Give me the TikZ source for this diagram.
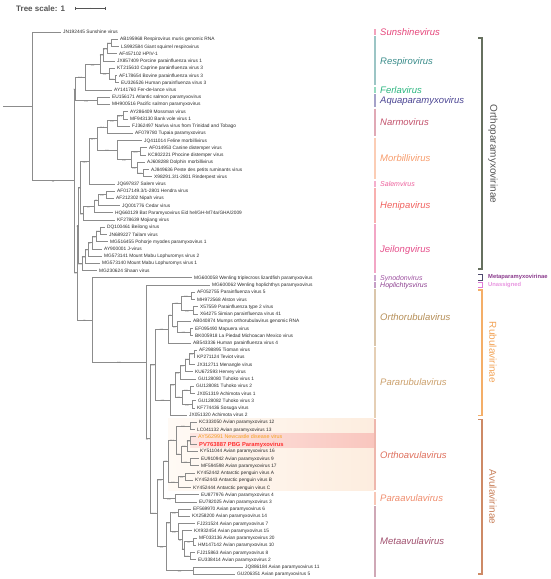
\documentclass[tikz,border=0pt]{standalone}
\usepackage{fontspec}
\setmainfont{Liberation Sans}
\usetikzlibrary{calc}
\definecolor{treegray}{HTML}{8C8C8C}
\definecolor{leafc}{HTML}{2A2A2A}
\definecolor{bsc}{HTML}{808080}
\definecolor{scg}{HTML}{555555}
\definecolor{hlA}{HTML}{FFFAF5}
\definecolor{hlB}{HTML}{FDEDDF}
\definecolor{pkA}{HTML}{FDE6E2}
\definecolor{pkB}{HTML}{F9C6BE}
\definecolor{ndvc}{HTML}{F5A020}
\definecolor{pbgc}{HTML}{FF3030}
\definecolor{gSun}{HTML}{E5457A}
\definecolor{gRes}{HTML}{3A8C8A}
\definecolor{gFer}{HTML}{2BB57F}
\definecolor{gAqu}{HTML}{4B4593}
\definecolor{gNar}{HTML}{C2526C}
\definecolor{gMor}{HTML}{F79C6C}
\definecolor{gSal}{HTML}{EC5E9A}
\definecolor{gHen}{HTML}{F0625F}
\definecolor{gJei}{HTML}{E54E8A}
\definecolor{gSyn}{HTML}{9C4F9F}
\definecolor{gHop}{HTML}{8B3D8E}
\definecolor{gOru}{HTML}{B58E57}
\definecolor{gPru}{HTML}{CBA06C}
\definecolor{gOav}{HTML}{DE6F5C}
\definecolor{gPav}{HTML}{EF8D6E}
\definecolor{gMav}{HTML}{A0506E}
\definecolor{orthoc}{HTML}{66705F}
\definecolor{orthot}{HTML}{555555}
\definecolor{metac}{HTML}{4E4A6E}
\definecolor{metat}{HTML}{8A3A8C}
\definecolor{unac}{HTML}{E07AD8}
\definecolor{unat}{HTML}{E896E0}
\definecolor{rubc}{HTML}{F4AE68}
\definecolor{rubt}{HTML}{F2A458}
\definecolor{avuc}{HTML}{CD8A66}
\definecolor{avut}{HTML}{C8805A}
\tikzset{
  br/.style={draw=treegray, line width=0.45pt},
  leaf/.style={anchor=base west, inner sep=0pt, font=\fontsize{4.8}{5.5}\selectfont, text=leafc},
  bsl/.style={anchor=north, inner sep=0.2pt, font=\fontsize{2.2}{2.4}\selectfont, text=bsc},
  gbar/.style={line width=2pt},
  glab/.style={anchor=base west, inner sep=0pt, yshift=-3.3pt, font=\fontsize{9.5}{10}\selectfont\itshape},
  sglab/.style={anchor=base west, inner sep=0pt, yshift=-2.5pt, font=\fontsize{7}{8}\selectfont\itshape},
  brk/.style={line width=1.2pt, line join=miter},
  sflab/.style={rotate=-90, inner sep=0pt, font=\fontsize{10}{11}\selectfont},
  smsf/.style={anchor=west, inner sep=0pt, font=\fontsize{5.8}{6}\selectfont\bfseries},
  scb/.style={draw=scg, line width=0.5pt},
}
\newcommand\tleaf[4]{%
  \coordinate (#1) at ({#3-1.6},{32+7.227*#2});
  \node[leaf] (#1t) at ({#3},{32+7.227*#2+1.7}) {#4};}
\newcommand\tnode[4]{%
  \path let \p1=(#3), \p2=(#4) in coordinate (#1) at (#2pt,{0.5*\y1+0.5*\y2});
  \draw[br] (#1) |- (#3);
  \draw[br] (#1) |- (#4);}
\newcommand\bsv[3]{\node[bsl] (#1b) at ($(#1)!0.5!(#2|-#1)$) {#3};}
\newcommand\genus[6]{%
  \draw[gbar,draw=#4!50!white] (375,{32+7.227*#2-2.9}) -- (375,{32+7.227*#3+2.9});
  \node[#5,text=#4] (#1) at (380,{32+7.227*(#2+#3)/2}) {#6};}
\begin{document}
\begin{tikzpicture}[x=1pt,y=-1pt]
\useasboundingbox (0,0) rectangle (550,579);
% clade highlights
\shade[left color=hlA,right color=hlB] (168,418.7) rectangle (374,490.9);
\shade[left color=pkA,right color=pkB] (190,433.2) rectangle (374,447.6);
% tree scale
\node[anchor=west,inner sep=0pt,font=\fontsize{8}{9}\selectfont\bfseries,text=scg] (tscale) at (16,9) {Tree scale: 1};
\coordinate (sbA) at (75,8.3);
\coordinate (sbB) at (105.5,8.3);
\coordinate (sbM) at (90.2,8.3);
\draw[scb] (sbA) -- (sbB);
\draw[scb] ($(sbA)+(0,-1.8)$) -- ($(sbA)+(0,1.8)$);
\draw[scb] ($(sbB)+(0,-1.8)$) -- ($(sbB)+(0,1.8)$);
\draw[scb] ($(sbM)+(0,-0.6)$) -- ($(sbM)+(0,0.6)$);
% leaves
\tleaf{sun}{0}{63}{JN192445 Sunshine virus}
\tleaf{l1}{1}{120}{AB195968 Respirovirus muris genomic RNA}
\tleaf{l2}{2}{121}{LS992584 Giant squirrel respirovirus}
\tleaf{l3}{3}{119}{AF457102 HPIV-1}
\tleaf{l4}{4}{117}{JX857409 Porcine parainfluenza virus 1}
\tleaf{l5}{5}{117}{KT215610 Caprine parainfluenza virus 3}
\tleaf{l6}{6}{119}{AF178654 Bovine parainfluenza virus 3}
\tleaf{l7}{7}{121}{EU326526 Human parainfluenza virus 3}
\tleaf{l8}{8}{114}{AY141760 Fer-de-lance virus}
\tleaf{l9}{9}{112}{EU156171 Atlantic salmon paramyxovirus}
\tleaf{l10}{10}{112}{MH900516 Pacific salmon paramyxovirus}
\tleaf{l11}{11}{130}{AY286409 Mossman virus}
\tleaf{l12}{12}{130}{MF943130 Bank vole virus 1}
\tleaf{l13}{13}{132}{FJ362497 Nariva virus from Trinidad and Tobago}
\tleaf{l14}{14}{135}{AF079780 Tupaia paramyxovirus}
\tleaf{l15}{15}{144}{JQ411014 Feline morbillivirus}
\tleaf{l16}{16}{149}{AF014953 Canine distemper virus}
\tleaf{l17}{17}{148}{KC802221 Phocine distemper virus}
\tleaf{l18}{18}{147}{AJ608288 Dolphin morbillivirus}
\tleaf{l19}{19}{151}{AJ849636 Peste des petits ruminants virus}
\tleaf{l20}{20}{154}{X98291.3/1-2801 Rinderpest virus}
\tleaf{l21}{21}{117}{JQ697837 Salem virus}
\tleaf{l22}{22}{117}{AF017149.3/1-2801 Hendra virus}
\tleaf{l23}{23}{116}{AF212302 Nipah virus}
\tleaf{l24}{24}{122}{JQ001776 Cedar virus}
\tleaf{l25}{25}{115}{HQ660129 Bat Paramyxovirus Eid hel/GH-M74a/GHA/2009}
\tleaf{l26}{26}{117}{KF278639 Mojiang virus}
\tleaf{l27}{27}{107}{DQ100461 Beilong virus}
\tleaf{l28}{28}{109}{JN689227 Tailam virus}
\tleaf{l29}{29}{110}{MG516455 Pohorje myodes paramyxovirus 1}
\tleaf{l30}{30}{104}{AY900001 J-virus}
\tleaf{l31}{31}{104}{MG573141 Mount Mabu Lophuromys virus 2}
\tleaf{l32}{32}{102}{MG573140 Mount Mabu Lophuromys virus 1}
\tleaf{l33}{33}{99}{MG230624 Shaan virus}
\tleaf{l34}{34}{194}{MG600058 Wenling triplecross lizardfish paramyxovirus}
\tleaf{l35}{35}{212}{MG600062 Wenling hoplichthys paramyxovirus}
\tleaf{l36}{36}{197}{AF052755 Parainfluenza virus 5}
\tleaf{l37}{37}{197}{MH972568 Alston virus}
\tleaf{l38}{38}{200}{X57559 Parainfluenza type 2 virus}
\tleaf{l39}{39}{200}{X64275 Simian parainfluenza virus 41}
\tleaf{l40}{40}{193}{AB040874 Mumps orthorubulavirus genomic RNA}
\tleaf{l41}{41}{195}{EF095490 Mapuera virus}
\tleaf{l42}{42}{195}{BK005918 La Piedad Michoacan Mexico virus}
\tleaf{l43}{43}{193}{AB543336 Human parainfluenza virus 4}
\tleaf{l44}{44}{199}{AF298895 Tioman virus}
\tleaf{l45}{45}{197}{KP271124 Teviot virus}
\tleaf{l46}{46}{197}{JX312711 Menangle virus}
\tleaf{l47}{47}{195}{KU672593 Hervey virus}
\tleaf{l48}{48}{198}{GU128080 Tuhoko virus 1}
\tleaf{l49}{49}{196}{GU128081 Tuhoko virus 2}
\tleaf{l50}{50}{197}{JX051319 Achimota virus 1}
\tleaf{l51}{51}{198}{GU128082 Tuhoko virus 3}
\tleaf{l52}{52}{197}{KF774436 Sosuga virus}
\tleaf{l53}{53}{189}{JX051320 Achimota virus 2}
\tleaf{l54}{54}{199}{KC333050 Avian paramyxovirus 12}
\tleaf{l55}{55}{197}{LC041132 Avian paramyxovirus 13}
\coordinate (l56) at (196.4,{32+7.227*56});
\node[leaf,font=\fontsize{5.4}{6}\selectfont,text=ndvc] (l56t) at (198,{32+7.227*56+1.9}) {AY562991 Newcastle disease virus};
\coordinate (l57) at (197.4,{32+7.227*57});
\node[leaf,font=\fontsize{5.8}{6.5}\selectfont\bfseries,text=pbgc] (l57t) at (199,{32+7.227*57+2.1}) {PV763887 PBG Paramyxovirus};
\tleaf{l58}{58}{200}{KY511044 Avian paramyxovirus 16}
\tleaf{l59}{59}{201}{EU910942 Avian paramyxovirus 9}
\tleaf{l60}{60}{201}{MF594598 Avian paramyxovirus 17}
\tleaf{l61}{61}{197}{KY452442 Antarctic penguin virus A}
\tleaf{l62}{62}{195}{KY452443 Antarctic penguin virus B}
\tleaf{l63}{63}{193}{KY452444 Antarctic penguin virus C}
\tleaf{l64}{64}{201}{EU877976 Avian paramyxovirus 4}
\tleaf{l65}{65}{199}{EU782025 Avian paramyxovirus 3}
\tleaf{l66}{66}{193}{EF569970 Avian paramyxovirus 6}
\tleaf{l67}{67}{192}{KX258200 Avian paramyxovirus 14}
\tleaf{l68}{68}{197}{FJ231524 Avian paramyxovirus 7}
\tleaf{l69}{69}{194}{KX932454 Avian paramyxovirus 15}
\tleaf{l70}{70}{199}{MF033136 Avian paramyxovirus 20}
\tleaf{l71}{71}{198}{HM147142 Avian paramyxovirus 10}
\tleaf{l72}{72}{197}{FJ215863 Avian paramyxovirus 8}
\tleaf{l73}{73}{198}{EU338414 Avian paramyxovirus 2}
\tleaf{l74}{74}{245}{JQ886184 Avian paramyxovirus 11}
\tleaf{l75}{75}{237}{GU206351 Avian paramyxovirus 5}
% internal nodes: Respirovirus, Ferlavirus, Aquaparamyxovirus
\tnode{r1}{111}{l1}{l2}
\tnode{r2}{107}{r1}{l3}
\tnode{r3}{103}{r2}{l4}
\tnode{r4}{115}{l6}{l7}
\tnode{r5}{109}{l5}{r4}
\tnode{r6}{100}{r3}{r5}
\tnode{r7}{85}{r6}{l8}
\tnode{a1}{97}{l9}{l10}
\tnode{rfa}{75.5}{r7}{a1}
% Narmovirus, Morbillivirus, Salemvirus
\tnode{n1}{123}{l11}{l12}
\tnode{n2}{117}{n1}{l13}
\tnode{n3}{107}{n2}{l14}
\tnode{m1}{140}{l16}{l17}
\tnode{m2}{143}{l19}{l20}
\tnode{m3}{137}{l18}{m2}
\tnode{m4}{131}{m1}{m3}
\tnode{m5}{117}{l15}{m4}
\tnode{nm}{97}{n3}{m5}
\tnode{ns}{89}{nm}{l21}
% Henipavirus
\tnode{h1}{106}{l22}{l23}
\tnode{h2}{98}{h1}{l24}
\tnode{h3}{94}{h2}{l25}
\tnode{h4}{83}{h3}{l26}
\tnode{A}{80.5}{ns}{h4}
% Jeilongvirus
\tnode{j1}{100}{l27}{l28}
\tnode{j2}{96}{j1}{l29}
\tnode{j3}{92}{j2}{l30}
\tnode{j4}{88}{j3}{l31}
\tnode{j5}{85}{j4}{l32}
\tnode{j6}{82}{j5}{l33}
\tnode{B}{78.5}{A}{j6}
% Rubulavirinae
\tnode{o1}{191}{l36}{l37}
\tnode{o2}{193}{l38}{l39}
\tnode{o3}{181}{o1}{o2}
\tnode{o4}{190}{l41}{l42}
\tnode{o5}{177}{l40}{o4}
\tnode{o6}{172}{o3}{o5}
\tnode{o7}{168}{o6}{l43}
\tnode{p1}{194}{l44}{l45}
\tnode{p2}{189}{p1}{l46}
\tnode{p3}{185}{p2}{l47}
\tnode{p4}{180}{p3}{l48}
\tnode{p5}{190}{l49}{l50}
\tnode{p6}{192}{l51}{l52}
\tnode{p7}{182}{p5}{p6}
\tnode{p8}{175}{p4}{p7}
\tnode{p9}{170}{p8}{l53}
\tnode{rub}{155}{o7}{p9}
% Avulavirinae
\tnode{v1}{190}{l54}{l55}
\tnode{v2}{190}{l56}{l57}
\tnode{v3}{187}{v2}{l58}
\tnode{v4}{190}{l59}{l60}
\tnode{v5}{181}{v3}{v4}
\tnode{v6}{176}{v1}{v5}
\tnode{v7}{185}{l61}{l62}
\tnode{v8}{178}{v7}{l63}
\tnode{v9}{168}{v6}{v8}
\tnode{v10}{175}{l64}{l65}
\tnode{v11}{163}{v9}{v10}
\tnode{w1}{178}{l66}{l67}
\tnode{w2}{193}{l70}{l71}
\tnode{w3}{190}{l72}{l73}
\tnode{w4}{184}{w2}{w3}
\tnode{w5}{182}{l69}{w4}
\tnode{w6}{178}{l68}{w5}
\tnode{w7}{170}{w1}{w6}
\tnode{w8}{193}{l74}{l75}
\tnode{w9}{166}{w7}{w8}
\tnode{avu}{157}{v11}{w9}
\tnode{R2}{150}{rub}{avu}
\tnode{Q}{146}{l35}{R2}
\tnode{S}{92}{l34}{Q}
\tnode{C}{77}{B}{S}
\tnode{P}{74}{rfa}{C}
\tnode{root}{32}{sun}{P}
\path let \p1=(root) in coordinate (base) at (3pt,\y1);
\draw[br] (base) -- (root);
% support values
\bsv{r1}{r2}{100} \bsv{r2}{r3}{98.5} \bsv{r3}{r6}{100} \bsv{r4}{r5}{100}
\bsv{r5}{r6}{100} \bsv{r6}{r7}{100} \bsv{r7}{rfa}{98.7} \bsv{a1}{rfa}{100}
\bsv{rfa}{P}{96}
\bsv{n1}{n2}{95.1} \bsv{n2}{n3}{100} \bsv{n3}{nm}{99.9} \bsv{m1}{m4}{96.6}
\bsv{m2}{m3}{100} \bsv{m3}{m4}{100} \bsv{m4}{m5}{100} \bsv{m5}{nm}{100}
\bsv{nm}{ns}{99.7} \bsv{ns}{A}{98.9}
\bsv{h1}{h2}{100} \bsv{h2}{h3}{97} \bsv{h3}{h4}{97} \bsv{h4}{A}{100} \bsv{A}{B}{85}
\bsv{j1}{j2}{100} \bsv{j2}{j3}{100} \bsv{j3}{j4}{97} \bsv{j4}{j5}{97}
\bsv{j5}{j6}{100} \bsv{j6}{B}{100} \bsv{B}{C}{85}
\bsv{C}{P}{95} \bsv{S}{C}{96} \bsv{Q}{S}{100} \bsv{P}{root}{98}
\bsv{o1}{o3}{100} \bsv{o2}{o3}{100} \bsv{o3}{o6}{100} \bsv{o4}{o5}{100}
\bsv{o5}{o6}{87} \bsv{o6}{o7}{97} \bsv{o7}{rub}{100}
\bsv{p1}{p2}{100} \bsv{p2}{p3}{100} \bsv{p3}{p4}{97} \bsv{p4}{p8}{100}
\bsv{p5}{p7}{100} \bsv{p6}{p7}{100} \bsv{p7}{p8}{100} \bsv{p8}{p9}{100} \bsv{p9}{rub}{100}
\bsv{rub}{R2}{99.8} \bsv{R2}{Q}{99.7}
\bsv{v1}{v6}{100} \bsv{v2}{v3}{100} \bsv{v3}{v5}{100} \bsv{v4}{v5}{100}
\bsv{v5}{v6}{99} \bsv{v6}{v9}{97.5} \bsv{v7}{v8}{100} \bsv{v8}{v9}{100}
\bsv{v9}{v11}{100} \bsv{v10}{v11}{100} \bsv{v11}{avu}{100}
\bsv{w1}{w7}{100} \bsv{w2}{w4}{99} \bsv{w3}{w4}{100} \bsv{w4}{w5}{89}
\bsv{w5}{w6}{99} \bsv{w6}{w7}{100} \bsv{w7}{w9}{100} \bsv{w8}{w9}{100}
\bsv{w9}{avu}{100} \bsv{avu}{R2}{99.7}
% genus bars and labels
\genus{gsun}{0}{0}{gSun}{glab}{Sunshinevirus}
\genus{gres}{1}{7}{gRes}{glab}{Respirovirus}
\genus{gfer}{8}{8}{gFer}{glab}{Ferlavirus}
\genus{gaqu}{9}{10}{gAqu}{glab}{Aquaparamyxovirus}
\genus{gnar}{11}{14}{gNar}{glab}{Narmovirus}
\genus{gmor}{15}{20}{gMor}{glab}{Morbillivirus}
\genus{gsal}{21}{21}{gSal}{sglab}{Salemvirus}
\genus{ghen}{22}{26}{gHen}{glab}{Henipavirus}
\genus{gjei}{27}{33}{gJei}{glab}{Jeilongvirus}
\genus{gsyn}{34}{34}{gSyn}{sglab}{Synodonvirus}
\genus{ghop}{35}{35}{gHop}{sglab}{Hoplichtysvirus}
\genus{goru}{36}{43}{gOru}{glab}{Orthorubulavirus}
\genus{gpru}{44}{53}{gPru}{glab}{Pararubulavirus}
\genus{goav}{54}{63}{gOav}{glab}{Orthoavulavirus}
\genus{gpav}{64}{65}{gPav}{glab}{Paraavulavirus}
\genus{gmav}{66}{75}{gMav}{glab}{Metaavulavirus}
% subfamily brackets
\draw[brk,draw=orthoc] (478,38) -- (482,38) -- (482,269) -- (478,269);
\node[sflab,text=orthot] (orthol) at (493,154) {Orthoparamyxovirinae};
\draw[brk,draw=metac,line width=1pt] (478,274.3) -- (482,274.3) -- (482,280.3) -- (478,280.3);
\node[smsf,text=metat] (metal) at (488,277.3) {Metaparamyxovirinae};
\draw[brk,draw=unac,line width=1pt] (478,282.4) -- (482,282.4) -- (482,287.6) -- (478,287.6);
\node[smsf,text=unat] (unal) at (488,285) {Unassigned};
\draw[brk,draw=rubc] (478,290) -- (482,290) -- (482,415.5) -- (478,415.5);
\node[sflab,text=rubt] (rubl) at (493,352.5) {Rubulavirinae};
\draw[brk,draw=avuc] (478,419.5) -- (482,419.5) -- (482,574) -- (478,574);
\node[sflab,text=avut] (avul) at (493,497) {Avulavirinae};
\end{tikzpicture}
\end{document}
